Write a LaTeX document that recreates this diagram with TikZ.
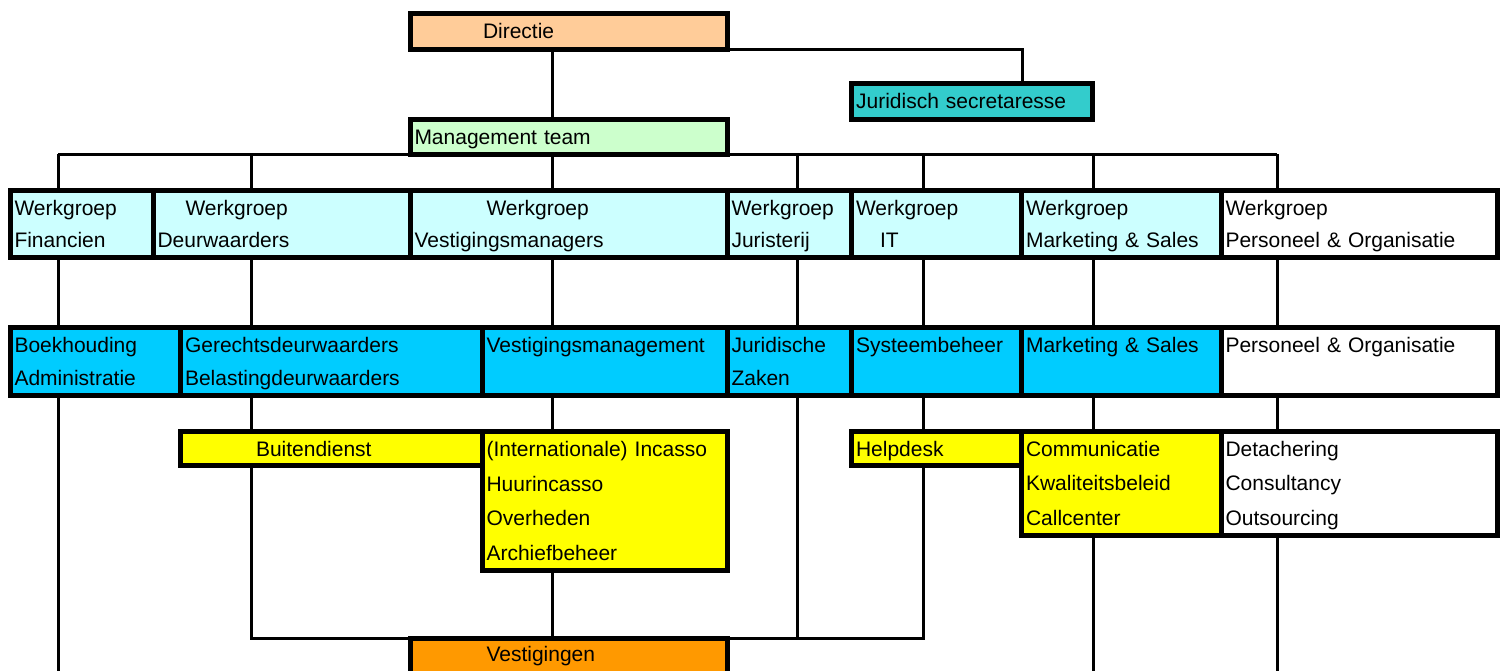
\documentclass[tikz,border=0pt]{standalone}
\usepackage{fontspec}
\setmainfont{Liberation Sans}
\usepackage{tikz}
\usetikzlibrary{calc}
\definecolor{dircol}{HTML}{FFCC99}
\definecolor{jurcol}{HTML}{33CCCC}
\definecolor{mtcol}{HTML}{CCFFCC}
\definecolor{wgcol}{HTML}{CCFFFF}
\definecolor{afdcol}{HTML}{00CCFF}
\definecolor{taakcol}{HTML}{FFFF00}
\definecolor{vestcol}{HTML}{FF9900}

\begin{document}
\begin{tikzpicture}[
    x=1pt, y=-1pt,
    box/.style={rectangle, draw, line width=5pt, outer sep=0pt, inner xsep=4.5pt, inner ysep=0pt,
        anchor=north west, align=left, text height=15pt, text depth=0pt,
        font=\fontsize{21}{31.5}\selectfont},
    wh/.style 2 args={minimum width=#1pt, text width=#1pt-9pt, minimum height=#2pt},
    wgroep/.style={box, fill=wgcol, text depth=31.5pt},
    afd/.style={box, fill=afdcol, text depth=32.5pt, font=\fontsize{21}{32.5}\selectfont},
    taak/.style={box, fill=taakcol, font=\fontsize{21}{34.5}\selectfont},
    link/.style={line width=3pt}
]
\useasboundingbox (0,0) rectangle (1501,670);
\fill[white] (0,0) rectangle (1501,670);
\clip (0,0) rectangle (1501,670);

% Top
\node[box, fill=dircol, wh={317}{35.5}] (dir) at (410,13.5) {\hspace*{68.5pt}Directie};
\node[box, fill=jurcol, wh={241}{35.2}] (jur) at (851.6,83.8) {Juridisch secretaresse};
\node[box, fill=mtcol, wh={317}{34.7}] (mt) at (410,119.3) {Management team};

% Werkgroepen
\node[wgroep, wh={143}{67.5}] (wfin) at (10,190) {Werkgroep\\Financien};
\node[wgroep, wh={257}{67.5}] (wdeu) at (153,190) {\hspace*{28pt}Werkgroep\\Deurwaarders};
\node[wgroep, wh={317}{67.5}] (wves) at (410,190) {\hspace*{72pt}Werkgroep\\Vestigingsmanagers};
\node[wgroep, wh={124.5}{67.5}] (wjur) at (727,190) {Werkgroep\\Juristerij};
\node[wgroep, wh={170}{67.5}] (wit) at (851.5,190) {Werkgroep\\\hspace*{24pt}IT};
\node[wgroep, wh={199.5}{67.5}] (wms) at (1021.5,190) {Werkgroep\\Marketing \& Sales};
\node[wgroep, fill=white, wh={276}{67.5}] (wpo) at (1221,190) {Werkgroep\\Personeel \& Organisatie};

% Afdelingen
\node[afd, wh={170.5}{68.5}] (boek) at (10,327) {Boekhouding\\Administratie};
\node[afd, wh={301.5}{68.5}] (gde) at (180.5,327) {Gerechtsdeurwaarders\\Belastingdeurwaarders};
\node[afd, wh={245}{68.5}] (vman) at (482,327) {Vestigingsmanagement};
\node[afd, wh={124.5}{68.5}] (jz) at (727,327) {Juridische\\Zaken};
\node[afd, wh={170}{68.5}] (sys) at (851.5,327) {Systeembeheer};
\node[afd, wh={199.5}{68.5}] (ms) at (1021.5,327) {Marketing \& Sales};
\node[afd, fill=white, wh={276}{68.5}] (po) at (1221,327) {Personeel \& Organisatie};

% Taken
\node[taak, wh={301.5}{34}] (buit) at (180.5,431.5) {\hspace*{71pt}Buitendienst};
\node[taak, text depth=103.5pt, wh={245}{138.5}] (inc) at (482,431.5) {(Internationale) Incasso\\Huurincasso\\Overheden\\Archiefbeheer};
\node[taak, wh={170}{34}] (help) at (851.5,431.5) {Helpdesk};
\node[taak, text depth=69pt, wh={199.5}{103.5}] (comm) at (1021.5,431.5) {Communicatie\\Kwaliteitsbeleid\\Callcenter};
\node[taak, fill=white, text depth=69pt, wh={276}{103.5}] (det) at (1221,431.5) {Detachering\\Consultancy\\Outsourcing};

% Vestigingen
\node[box, fill=vestcol, text depth=29pt, wh={317}{60}] (vest) at (410,638.5) {\hspace*{72pt}Vestigingen};

% Bus coordinates
\foreach \n/\x in {1/58, 2/251, 3/552, 4/797, 5/923, 6/1093, 7/1277}
    \coordinate (k\n) at (\x,154);
\coordinate (bot) at (0,700);

% Lines top
\draw[link] (dir.south -| k3) -- (mt.north -| k3);
\draw[link] (dir.south east) -| ([xshift=50pt]jur.north);
\draw[link] (k1) -- (k7);
\foreach \n/\w in {1/wfin, 2/wdeu, 3/wves, 4/wjur, 5/wit, 6/wms, 7/wpo}
    \draw[link] (k\n) -- (k\n |- \w.north);

% Lines middle
\foreach \n/\w/\a in {1/wfin/boek, 2/wdeu/gde, 3/wves/vman, 4/wjur/jz, 5/wit/sys, 6/wms/ms, 7/wpo/po}
    \draw[link] (\w.south -| k\n) -- (\a.north -| k\n);
\foreach \n/\a/\t in {2/gde/buit, 3/vman/inc, 5/sys/help, 6/ms/comm, 7/po/det}
    \draw[link] (\a.south -| k\n) -- (\t.north -| k\n);

% Lines bottom
\draw[link] (boek.south -| k1) -- (k1 |- bot);
\draw[link] (buit.south -| k2) |- (vest.north west);
\draw[link] (inc.south -| k3) -- (vest.north -| k3);
\draw[link] (jz.south -| k4) |- (vest.north east);
\draw[link] (help.south -| k5) |- (vest.north east);
\draw[link] (comm.south -| k6) -- (k6 |- bot);
\draw[link] (det.south -| k7) -- (k7 |- bot);

\end{tikzpicture}
\end{document}
